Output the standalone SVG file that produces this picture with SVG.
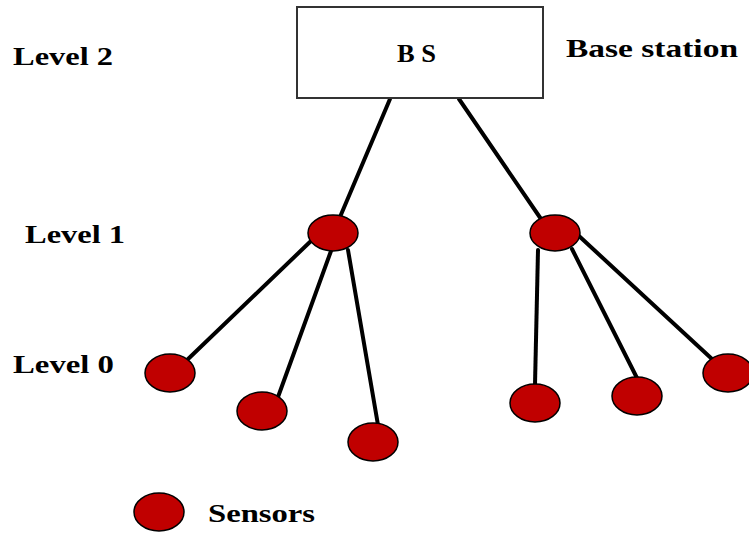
<svg xmlns="http://www.w3.org/2000/svg" width="749" height="533" viewBox="0 0 749 533">
<style>
.t{font-family:"Liberation Serif","Times New Roman",serif;font-weight:bold;font-size:26px;fill:#000}
.n{fill:#c00000;stroke:#000;stroke-width:1.5}
.c{stroke:#000;stroke-width:4;stroke-linecap:round;fill:none}
</style>
<rect width="749" height="533" fill="#fff"/>
<g id="connectors">
<line class="c" x1="390" y1="99" x2="340" y2="217"/>
<line class="c" x1="459" y1="99" x2="541" y2="219"/>
<line class="c" x1="312" y1="240" x2="186" y2="361"/>
<line class="c" x1="331" y1="251" x2="278" y2="397"/>
<line class="c" x1="348" y1="250" x2="378" y2="425"/>
<line class="c" x1="538" y1="250" x2="535" y2="385"/>
<line class="c" x1="572" y1="249" x2="637" y2="378"/>
<line class="c" x1="579" y1="236" x2="712" y2="359"/>
</g>
<g id="bs">
<rect x="297" y="7" width="246" height="91" fill="#fff" stroke="#333" stroke-width="2"/>
<text class="t" x="397" y="62" textLength="39" lengthAdjust="spacingAndGlyphs">B S</text>
</g>
<g id="l1a"><ellipse class="n" cx="333" cy="233" rx="25" ry="18"/></g>
<g id="l1b"><ellipse class="n" cx="555" cy="233" rx="25" ry="18"/></g>
<g id="l0a"><ellipse class="n" cx="170" cy="373" rx="25" ry="19"/></g>
<g id="l0b"><ellipse class="n" cx="262" cy="411" rx="25" ry="19"/></g>
<g id="l0c"><ellipse class="n" cx="373" cy="442" rx="25" ry="19"/></g>
<g id="l0d"><ellipse class="n" cx="535" cy="403" rx="25" ry="19"/></g>
<g id="l0e"><ellipse class="n" cx="637" cy="396" rx="25" ry="19"/></g>
<g id="l0f"><ellipse class="n" cx="728" cy="373" rx="25" ry="19"/></g>
<g id="legend">
<ellipse class="n" cx="159" cy="512" rx="25" ry="19"/>
<text class="t" x="208" y="522" textLength="107" lengthAdjust="spacingAndGlyphs">Sensors</text>
</g>
<g id="labels">
<text class="t" x="13" y="65" textLength="100" lengthAdjust="spacingAndGlyphs">Level 2</text>
<text class="t" x="25" y="243" textLength="100" lengthAdjust="spacingAndGlyphs">Level 1</text>
<text class="t" x="13" y="373" textLength="101" lengthAdjust="spacingAndGlyphs">Level 0</text>
<text class="t" x="566" y="57" textLength="172" lengthAdjust="spacingAndGlyphs">Base station</text>
</g>
</svg>
